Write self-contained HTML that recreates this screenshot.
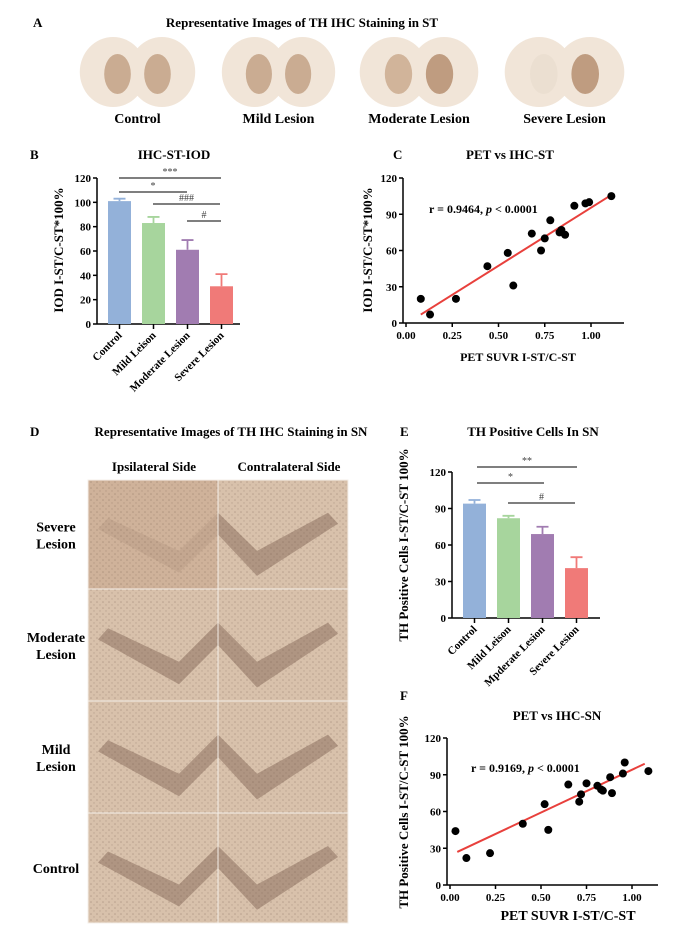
<!DOCTYPE html>
<html><head><meta charset="utf-8"><style>
html,body{margin:0;padding:0;background:#fff}
svg{display:block;font-family:"Liberation Serif",serif;font-weight:bold}
</style></head><body>
<svg id="fig" width="685" height="944" viewBox="0 0 685 944" xmlns="http://www.w3.org/2000/svg">
<defs>
<pattern id="spk" width="6" height="6" patternUnits="userSpaceOnUse"><circle cx="1" cy="2" r="0.8" fill="#6a5041" opacity="0.6"/><circle cx="4" cy="5" r="0.7" fill="#6a5041" opacity="0.5"/></pattern>
</defs>
<!-- Panel A -->
<text x="33" y="27" font-size="13">A</text>
<text x="302" y="27" font-size="13" text-anchor="middle">Representative Images of TH IHC Staining in ST</text>
<g id="brains"></g>
<!-- Panel B -->
<text x="30" y="159" font-size="13">B</text>
<text x="174" y="159" font-size="13" text-anchor="middle">IHC-ST-IOD</text>
<g id="chartB"></g>
<!-- Panel C -->
<text x="393" y="159" font-size="13">C</text>
<text x="510" y="159" font-size="13" text-anchor="middle">PET vs IHC-ST</text>
<g id="chartC"></g>
<!-- Panel D -->
<text x="30" y="436" font-size="13">D</text>
<text x="231" y="436" font-size="13" text-anchor="middle">Representative Images of TH IHC Staining in SN</text>
<text x="154" y="471" font-size="13" text-anchor="middle">Ipsilateral Side</text>
<text x="289" y="471" font-size="13" text-anchor="middle">Contralateral Side</text>
<g id="sn"></g>
<!-- Panel E -->
<text x="400" y="436" font-size="13">E</text>
<text x="533" y="436" font-size="13" text-anchor="middle">TH Positive Cells In SN</text>
<g id="chartE"></g>
<!-- Panel F -->
<text x="400" y="700" font-size="13">F</text>
<text x="557" y="720" font-size="13" text-anchor="middle">PET vs IHC-SN</text>
<g id="chartF"></g>
</svg>
<script>
var NS='http://www.w3.org/2000/svg';
var categoriesB=['Control','Mild Leison','Moderate Lesion','Severe Lesion'];
var meansB=[101,83,61,31];
var errB=[2,5,8,10];
var ticksB=[0,20,40,60,80,100,120];
var categoriesE=['Control','Mild Leison','Mpderate Lesion','Severe Lesion'];
var meansE=[94,82,69,41];
var errE=[3,2,6,9];
var ticksE=[0,30,60,90,120];
var colors=['#93b1d9','#a7d59d','#a17cb1','#f07a78'];
var cX=[0.08,0.13,0.27,0.44,0.55,0.58,0.68,0.73,0.75,0.78,0.83,0.84,0.86,0.91,0.97,0.99,1.11];
var cY=[20,7,20,47,58,31,74,60,70,85,75,77,73,97,99,100,105];
var cFitX=[0.08,1.11];
var cFitY=[7,106];
var fX=[0.03,0.09,0.22,0.40,0.52,0.54,0.65,0.71,0.72,0.75,0.81,0.83,0.84,0.88,0.89,0.95,0.96,1.09];
var fY=[44,22,26,50,66,45,82,68,74,83,81,78,77,88,75,91,100,93];
var fFitX=[0.04,1.07];
var fFitY=[27,99];
var scTicksX=[0,0.25,0.5,0.75,1.0];
var scTicksXLab=['0.00','0.25','0.50','0.75','1.00'];
var scTicksY=[0,30,60,90,120];

function el(t,a,p){var e=document.createElementNS(NS,t);for(var k in a)e.setAttribute(k,a[k]);p.appendChild(e);return e;}
function txt(s,a,p){var e=el('text',a,p);e.textContent=s;return e;}

function yAxis(g,x0,yTop,yBot,ticks,max,title,tx,ty){
  var l=el('line',{x1:x0,y1:yTop,x2:x0,y2:yBot,stroke:'#000','stroke-width':1.5},g);
  
  
  ticks.forEach(function(t){var y=yBot-(t/max)*(yBot-yTop);
    el('line',{x1:x0-4,y1:y,x2:x0,y2:y,stroke:'#000','stroke-width':1.5},g);
    var tl=txt(String(t),{x:x0-6,y:y+4,'font-size':11,'text-anchor':'end'},g);
    
    
  });
  var tt=txt(title,{x:tx,y:ty,'font-size':13,'text-anchor':'middle',transform:'rotate(-90 '+tx+' '+ty+')'},g);
  
  
}

function barChart(g,cats,means,errs,ticks,x0,xEnd,yTop,yBot,bx,bw,title,tx,ty,sig){
  var max=120;function Y(v){return yBot-(v/max)*(yBot-yTop);}
  yAxis(g,x0,yTop,yBot,ticks,max,title,tx,ty);
  var xa=el('line',{x1:x0,y1:yBot,x2:xEnd,y2:yBot,stroke:'#000','stroke-width':1.5},g);
  
  
  cats.forEach(function(c,i){var x=bx[i],cx=x+bw/2;
    var r=el('rect',{x:x,y:Y(means[i]),width:bw,height:yBot-Y(means[i]),fill:colors[i]},g);
    
    
    var e=el('path',{d:'M'+cx+' '+Y(means[i])+'V'+Y(means[i]+errs[i])+'M'+(cx-6)+' '+Y(means[i]+errs[i])+'H'+(cx+6),stroke:colors[i],'stroke-width':1.8,fill:'none'},g);
    
    
    el('line',{x1:cx,y1:yBot,x2:cx,y2:yBot+5,stroke:'#000','stroke-width':1.5},g);
    var t=txt(c,{x:cx+3,y:yBot+12,'font-size':11,'text-anchor':'end',transform:'rotate(-45 '+(cx+3)+' '+(yBot+12)+')'},g);
    
    
  });
  sig.forEach(function(s){
    var l=el('line',{x1:s[0],y1:s[2],x2:s[1],y2:s[2],stroke:'#555','stroke-width':1.5},g);
    
    
    var t=txt(s[3],{x:(s[0]+s[1])/2,y:s[2]-3,'font-size':10,'text-anchor':'middle',fill:'#444','font-weight':'normal'},g);
    
    
  });
}

function scatter(g,xs,ys,fx,fy,x0,xAxisEnd,px0,px1,yTop,yBot,title,tx,ty,xt,xtx,xty,xtfs,rt,rx,ry){
  function X(v){return px0+v*(px1-px0);} function Y(v){return yBot-(v/120)*(yBot-yTop);}
  yAxis(g,x0,yTop,yBot,scTicksY,120,title,tx,ty);
  var xa=el('line',{x1:x0,y1:yBot,x2:xAxisEnd,y2:yBot,stroke:'#000','stroke-width':1.5},g);
  
  
  scTicksX.forEach(function(t,i){var x=X(t);
    el('line',{x1:x,y1:yBot,x2:x,y2:yBot+4,stroke:'#000','stroke-width':1.5},g);
    var l=txt(scTicksXLab[i],{x:x,y:yBot+16,'font-size':11,'text-anchor':'middle'},g);
    
    
  });
  var ft=el('line',{x1:X(fx[0]),y1:Y(fy[0]),x2:X(fx[1]),y2:Y(fy[1]),stroke:'#e8403c','stroke-width':2},g);
  
  
  xs.forEach(function(v,i){var c=el('circle',{cx:X(v),cy:Y(ys[i]),r:4,fill:'#000'},g);
    
    });
  var xtt=txt(xt,{x:xtx,y:xty,'font-size':xtfs,'text-anchor':'middle'},g);
  
  
  var r=el('text',{x:rx,y:ry,'font-size':12},g);
  
  
  r.innerHTML=rt;
}

barChart(document.getElementById('chartB'),categoriesB,meansB,errB,ticksB,97,240,178,324,[108,142,176,210],23,'IOD I-ST/C-ST*100%',63,250,
 [[119,221,178,'***'],[119,187,192,'*'],[153,220,204,'###'],[187,221,221,'#']]);
barChart(document.getElementById('chartE'),categoriesE,meansE,errE,ticksE,452,600,472,618,[463,497,531,565],23,'TH Positive Cells  I-ST/C-ST 100%',408,545,
 [[477,577,467,'**'],[477,544,483,'*'],[508,575,503,'#']]);
scatter(document.getElementById('chartC'),cX,cY,cFitX,cFitY,403,624,406,591,178,323,'IOD I-ST/C-ST*100%',372,250,'PET SUVR I-ST/C-ST',518,361,12,'r = 0.9464, <tspan font-style="italic">p</tspan> &lt; 0.0001',429,213);
scatter(document.getElementById('chartF'),fX,fY,fFitX,fFitY,447,658,450,632,738,885,'TH Positive Cells  I-ST/C-ST 100%',408,812,'PET SUVR I-ST/C-ST',568,920,14,'r = 0.9169, <tspan font-style="italic">p</tspan> &lt; 0.0001',471,772);

// brain images panel A
var brainX=[82,224,362,507],brainW=[111,109,114,115],brainLab=['Control','Mild Lesion','Moderate Lesion','Severe Lesion'];
var bg=document.getElementById('brains');
brainX.forEach(function(x,i){var w=brainW[i],cx=x+w/2;
  var g=el('g',{},bg);
  
  
  el('ellipse',{cx:cx-w*0.22,cy:72,rx:w*0.3,ry:35,fill:'#f1e5d8'},g);
  el('ellipse',{cx:cx+w*0.22,cy:72,rx:w*0.3,ry:35,fill:'#f1e5d8'},g);
  var l=(i==3)?'#ebdfd1':(i==2?'#d1b49a':'#caac92'), r=(i==2||i==3)?'#bf9c80':'#caac92';
  el('ellipse',{cx:cx-w*0.18,cy:74,rx:w*0.12,ry:20,fill:l},g);
  el('ellipse',{cx:cx+w*0.18,cy:74,rx:w*0.12,ry:20,fill:r},g);
  var t=txt(brainLab[i],{x:cx,y:123,'font-size':14,'text-anchor':'middle'},bg);
  
  
});

// SN images panel D
var snRows=['Severe|Lesion','Moderate|Lesion','Mild|Lesion','Control'];
var rowY=[480,589,701,813,923];
var colX=[88,218,348];
var sg=document.getElementById('sn');
snRows.forEach(function(lab,r){
  for(var c=0;c<2;c++){var x=colX[c],w=colX[c+1]-colX[c],y=rowY[r],h=rowY[r+1]-rowY[r];
    var g=el('g',{},sg);
    
    
    el('rect',{x:x,y:y,width:w,height:h,fill:r==0&&c==0?'#cfb29a':'#d8c1ab'},g);
    var dark=(r==0&&c==0)?0.15:0.5;
    var pts=c==0? (x+10)+','+(y+h*0.45)+' '+(x+w*0.7)+','+(y+h*0.85)+' '+(x+w)+','+(y+h*0.5)+' '+(x+w)+','+(y+h*0.3)+' '+(x+w*0.7)+','+(y+h*0.65)+' '+(x+20)+','+(y+h*0.35)
      : x+','+(y+h*0.5)+' '+(x+w*0.3)+','+(y+h*0.88)+' '+(x+w-10)+','+(y+h*0.4)+' '+(x+w-20)+','+(y+h*0.3)+' '+(x+w*0.3)+','+(y+h*0.65)+' '+x+','+(y+h*0.3);
    el('polygon',{points:pts,fill:'#86695a',opacity:dark},g);
    el('rect',{x:x,y:y,width:w,height:h,fill:'url(#spk)',opacity:0.5},g);
    el('rect',{x:x,y:y,width:w,height:h,fill:'none',stroke:'#f4efe9','stroke-width':1},g);
  }
  var parts=lab.split('|'),cy=(rowY[r]+rowY[r+1])/2;
  var t=el('text',{x:56,y:cy-(parts.length-1)*8+5,'font-size':14,'text-anchor':'middle'},sg);
  
  
  parts.forEach(function(p,k){var ts=el('tspan',{x:56,dy:k?17:0},t);ts.textContent=p;});
});
</script>
</body></html>
